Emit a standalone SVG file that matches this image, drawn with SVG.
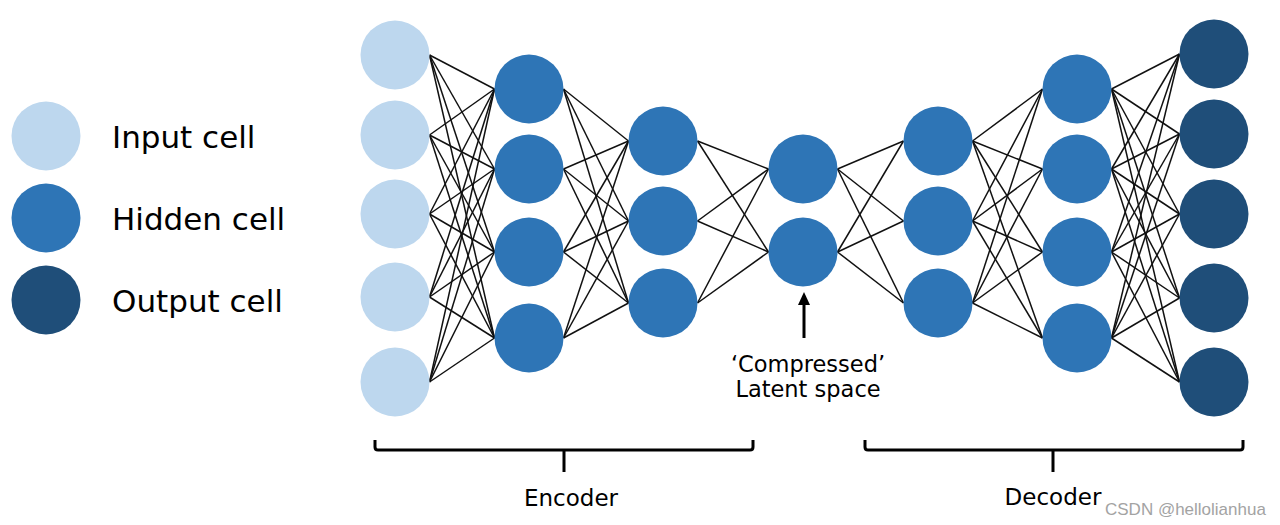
<svg xmlns="http://www.w3.org/2000/svg" width="1280" height="525" viewBox="0 0 1280 525">
<style>
.in{fill:#BDD7EE}
.hid{fill:#2E75B6}
.out{fill:#1F4E79}
.c line{stroke:#111;stroke-width:1.5}
.lbl{font-family:"DejaVu Sans","Verdana",sans-serif;fill:#000}
.br{fill:none;stroke:#000;stroke-width:3;stroke-linejoin:round;stroke-linecap:butt}
</style>
<rect width="1280" height="525" fill="#fff"/>

<g id="connectors" class="c">
<line x1="429.5" y1="55" x2="494.5" y2="89"/><line x1="429.5" y1="55" x2="494.5" y2="169"/><line x1="429.5" y1="55" x2="494.5" y2="252"/><line x1="429.5" y1="55" x2="494.5" y2="338"/>
<line x1="429.5" y1="135" x2="494.5" y2="89"/><line x1="429.5" y1="135" x2="494.5" y2="169"/><line x1="429.5" y1="135" x2="494.5" y2="252"/><line x1="429.5" y1="135" x2="494.5" y2="338"/>
<line x1="429.5" y1="214" x2="494.5" y2="89"/><line x1="429.5" y1="214" x2="494.5" y2="169"/><line x1="429.5" y1="214" x2="494.5" y2="252"/><line x1="429.5" y1="214" x2="494.5" y2="338"/>
<line x1="429.5" y1="297" x2="494.5" y2="89"/><line x1="429.5" y1="297" x2="494.5" y2="169"/><line x1="429.5" y1="297" x2="494.5" y2="252"/><line x1="429.5" y1="297" x2="494.5" y2="338"/>
<line x1="429.5" y1="382" x2="494.5" y2="89"/><line x1="429.5" y1="382" x2="494.5" y2="169"/><line x1="429.5" y1="382" x2="494.5" y2="252"/><line x1="429.5" y1="382" x2="494.5" y2="338"/>

<line x1="563.5" y1="89" x2="628.5" y2="141"/><line x1="563.5" y1="89" x2="628.5" y2="221"/><line x1="563.5" y1="89" x2="628.5" y2="303"/>
<line x1="563.5" y1="169" x2="628.5" y2="141"/><line x1="563.5" y1="169" x2="628.5" y2="221"/><line x1="563.5" y1="169" x2="628.5" y2="303"/>
<line x1="563.5" y1="252" x2="628.5" y2="141"/><line x1="563.5" y1="252" x2="628.5" y2="221"/><line x1="563.5" y1="252" x2="628.5" y2="303"/>
<line x1="563.5" y1="338" x2="628.5" y2="141"/><line x1="563.5" y1="338" x2="628.5" y2="221"/><line x1="563.5" y1="338" x2="628.5" y2="303"/>

<line x1="697.5" y1="141" x2="768.5" y2="169"/><line x1="697.5" y1="141" x2="768.5" y2="252"/>
<line x1="697.5" y1="221" x2="768.5" y2="169"/><line x1="697.5" y1="221" x2="768.5" y2="252"/>
<line x1="697.5" y1="303" x2="768.5" y2="169"/><line x1="697.5" y1="303" x2="768.5" y2="252"/>

<line x1="837.5" y1="169" x2="903.5" y2="141"/><line x1="837.5" y1="169" x2="903.5" y2="221"/><line x1="837.5" y1="169" x2="903.5" y2="303"/>
<line x1="837.5" y1="252" x2="903.5" y2="141"/><line x1="837.5" y1="252" x2="903.5" y2="221"/><line x1="837.5" y1="252" x2="903.5" y2="303"/>

<line x1="972.5" y1="141" x2="1042.5" y2="89"/><line x1="972.5" y1="141" x2="1042.5" y2="169"/><line x1="972.5" y1="141" x2="1042.5" y2="252"/><line x1="972.5" y1="141" x2="1042.5" y2="338"/>
<line x1="972.5" y1="221" x2="1042.5" y2="89"/><line x1="972.5" y1="221" x2="1042.5" y2="169"/><line x1="972.5" y1="221" x2="1042.5" y2="252"/><line x1="972.5" y1="221" x2="1042.5" y2="338"/>
<line x1="972.5" y1="303" x2="1042.5" y2="89"/><line x1="972.5" y1="303" x2="1042.5" y2="169"/><line x1="972.5" y1="303" x2="1042.5" y2="252"/><line x1="972.5" y1="303" x2="1042.5" y2="338"/>

<line x1="1111.5" y1="89" x2="1179.5" y2="54"/><line x1="1111.5" y1="89" x2="1179.5" y2="134"/><line x1="1111.5" y1="89" x2="1179.5" y2="214"/><line x1="1111.5" y1="89" x2="1179.5" y2="298"/><line x1="1111.5" y1="89" x2="1179.5" y2="382"/>
<line x1="1111.5" y1="169" x2="1179.5" y2="54"/><line x1="1111.5" y1="169" x2="1179.5" y2="134"/><line x1="1111.5" y1="169" x2="1179.5" y2="214"/><line x1="1111.5" y1="169" x2="1179.5" y2="298"/><line x1="1111.5" y1="169" x2="1179.5" y2="382"/>
<line x1="1111.5" y1="252" x2="1179.5" y2="54"/><line x1="1111.5" y1="252" x2="1179.5" y2="134"/><line x1="1111.5" y1="252" x2="1179.5" y2="214"/><line x1="1111.5" y1="252" x2="1179.5" y2="298"/><line x1="1111.5" y1="252" x2="1179.5" y2="382"/>
<line x1="1111.5" y1="338" x2="1179.5" y2="54"/><line x1="1111.5" y1="338" x2="1179.5" y2="134"/><line x1="1111.5" y1="338" x2="1179.5" y2="214"/><line x1="1111.5" y1="338" x2="1179.5" y2="298"/><line x1="1111.5" y1="338" x2="1179.5" y2="382"/>
</g>

<g id="layer-input">
<circle id="in1" class="in" cx="395" cy="55" r="34.5"/>
<circle id="in2" class="in" cx="395" cy="135" r="34.5"/>
<circle id="in3" class="in" cx="395" cy="214" r="34.5"/>
<circle id="in4" class="in" cx="395" cy="297" r="34.5"/>
<circle id="in5" class="in" cx="395" cy="382" r="34.5"/>
</g>
<g id="layer-enc1">
<circle id="e1a" class="hid" cx="529" cy="89" r="34.5"/>
<circle id="e1b" class="hid" cx="529" cy="169" r="34.5"/>
<circle id="e1c" class="hid" cx="529" cy="252" r="34.5"/>
<circle id="e1d" class="hid" cx="529" cy="338" r="34.5"/>
</g>
<g id="layer-enc2">
<circle id="e2a" class="hid" cx="663" cy="141" r="34.5"/>
<circle id="e2b" class="hid" cx="663" cy="221" r="34.5"/>
<circle id="e2c" class="hid" cx="663" cy="303" r="34.5"/>
</g>
<g id="layer-latent">
<circle id="z1" class="hid" cx="803" cy="169" r="34.5"/>
<circle id="z2" class="hid" cx="803" cy="252" r="34.5"/>
</g>
<g id="layer-dec1">
<circle id="d1a" class="hid" cx="938" cy="141" r="34.5"/>
<circle id="d1b" class="hid" cx="938" cy="221" r="34.5"/>
<circle id="d1c" class="hid" cx="938" cy="303" r="34.5"/>
</g>
<g id="layer-dec2">
<circle id="d2a" class="hid" cx="1077" cy="89" r="34.5"/>
<circle id="d2b" class="hid" cx="1077" cy="169" r="34.5"/>
<circle id="d2c" class="hid" cx="1077" cy="252" r="34.5"/>
<circle id="d2d" class="hid" cx="1077" cy="338" r="34.5"/>
</g>
<g id="layer-output">
<circle id="o1" class="out" cx="1214" cy="54" r="34.5"/>
<circle id="o2" class="out" cx="1214" cy="134" r="34.5"/>
<circle id="o3" class="out" cx="1214" cy="214" r="34.5"/>
<circle id="o4" class="out" cx="1214" cy="298" r="34.5"/>
<circle id="o5" class="out" cx="1214" cy="382" r="34.5"/>
</g>

<g id="legend">
<g id="legend-input"><circle class="in" cx="46" cy="136" r="34.5"/><text class="lbl" x="112" y="148" font-size="31">Input cell</text></g>
<g id="legend-hidden"><circle class="hid" cx="46" cy="218" r="34.5"/><text class="lbl" x="112" y="230" font-size="31">Hidden cell</text></g>
<g id="legend-output"><circle class="out" cx="46" cy="300" r="34.5"/><text class="lbl" x="112" y="312" font-size="31">Output cell</text></g>
</g>

<g id="latent-label">
<line x1="804" y1="338" x2="804" y2="302" stroke="#000" stroke-width="3"/>
<polygon points="804,292 798,305 810,305" fill="#000"/>
<text class="lbl" x="808" y="372" font-size="22.5" text-anchor="middle">‘Compressed’</text>
<text class="lbl" x="808" y="397" font-size="22.5" text-anchor="middle">Latent space</text>
</g>

<g id="encoder">
<path class="br" d="M375,440 V447 Q375,450 378,450 H750 Q753,450 753,447 V440 M564,450 V472"/>
<text class="lbl" x="571" y="506" font-size="23" text-anchor="middle">Encoder</text>
</g>
<g id="decoder">
<path class="br" d="M865,440 V447 Q865,450 868,450 H1240 Q1243,450 1243,447 V440 M1053,450 V472"/>
<text class="lbl" x="1053" y="505" font-size="23" text-anchor="middle">Decoder</text>
</g>

<text x="1105" y="515" font-family="Liberation Sans, Arial, sans-serif" font-size="17" fill="#a3a3a3">CSDN @hellolianhua</text>
</svg>
